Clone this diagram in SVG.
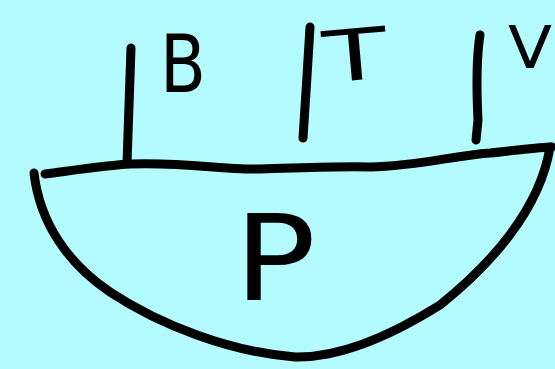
<svg xmlns="http://www.w3.org/2000/svg" width="555" height="369" viewBox="0 0 555 369">
<style>
.ink{fill:none;stroke:#000;stroke-width:9;stroke-linecap:round;stroke-linejoin:round}
.lbl{font-family:"DejaVu Sans",sans-serif;fill:#000}
</style>
<rect width="555" height="369" fill="#b3fbff"/>
<g id="P">
<path class="ink" d="M45,174 C90,168 110,165 130,164 C190,162 220,170 260,169 C300,168 340,166 370,167 C420,166 450,156 490,153 C520,150 540,147 552,147"/>
<path class="ink" d="M34,173 C40,225 70,265 110,292 C160,325 230,352 295,357 C345,358 400,330 440,305 C490,265 540,210 550,147"/>
<text class="lbl" x="234" y="300" font-size="120" textLength="82" lengthAdjust="spacingAndGlyphs">P</text>
</g>
<g id="B">
<path class="ink" d="M131,48 L127,163"/>
<text class="lbl" x="160" y="92" font-size="80" textLength="46" lengthAdjust="spacingAndGlyphs">B</text>
</g>
<g id="T">
<path class="ink" d="M310,27 C308,60 305,110 303,138"/>
<text class="lbl" x="323" y="80" font-size="71" textLength="64" lengthAdjust="spacingAndGlyphs" transform="rotate(-5 355 55)">T</text>
</g>
<g id="V">
<path class="ink" d="M480,35 C476,60 477,100 478,120 L476,140"/>
<text class="lbl" x="508" y="68" font-size="59" textLength="44" lengthAdjust="spacingAndGlyphs">V</text>
</g>
<g id="connectors"></g>
</svg>
